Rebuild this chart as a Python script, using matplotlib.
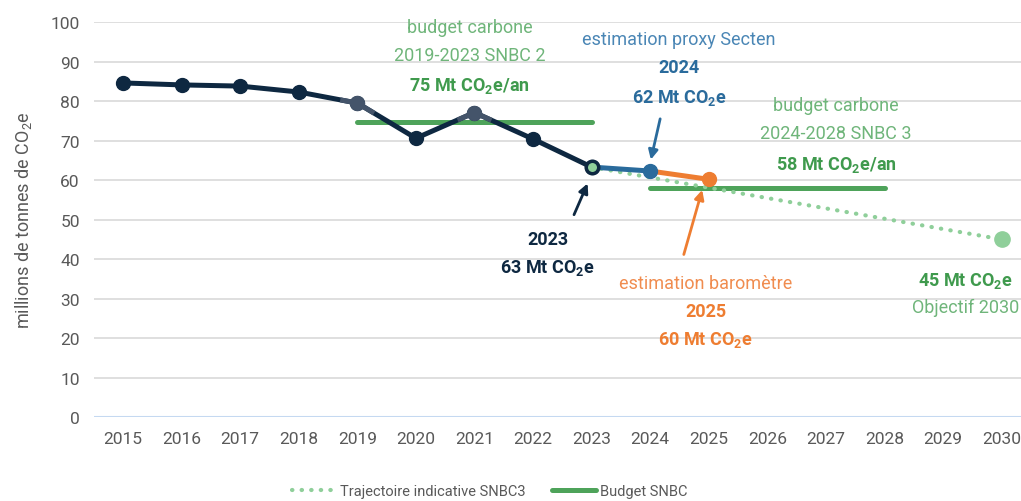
import matplotlib
matplotlib.use('Agg')
import matplotlib.pyplot as plt

# data
years = [str(y) for y in range(2015, 2031)]
inventaire = [84.6, 84.1, 83.8, 82.3, 79.5, 70.6, 77.1, 70.4, 63.3]   # 2015-2023
proxy_2024 = 62.3
barometre_2025 = 60.2
objectif_2030 = 45.0
budget_snbc2 = 74.8   # 2019-2023
budget_snbc3 = 58.0   # 2024-2028

NAVY = '#0e2841'
SLATE = '#44546a'
BLUE = '#2a6b9c'
BLUE_LIGHT = '#4a86b5'
ORANGE = '#ee7d31'
GREEN = '#4ea35a'
GREEN_TXT = '#3f9a4d'
GREEN_LIGHT = '#6fb57a'
DOTS = '#8fcf9a'

plt.rcParams['font.family'] = ['Roboto', 'DejaVu Sans']
plt.rcParams['mathtext.fontset'] = 'custom'
plt.rcParams['mathtext.rm'] = 'Roboto'
plt.rcParams['mathtext.bf'] = 'Roboto:bold'

fig = plt.figure(figsize=(10.21, 5.02), dpi=100)
ax = fig.add_axes([0.0918, 0.167, 0.918, 0.787])

x = list(range(len(years)))
i23 = years.index('2023')
i24 = years.index('2024')
i25 = years.index('2025')
i30 = years.index('2030')
i19 = years.index('2019')
i28 = years.index('2028')

# budgets
ax.plot([i19, i23], [budget_snbc2, budget_snbc2], color=GREEN, lw=3.6,
        solid_capstyle='round', zorder=2)
ax.plot([i24, i28], [budget_snbc3, budget_snbc3], color=GREEN, lw=3.6,
        solid_capstyle='round', zorder=2, label='Budget SNBC')

# trajectory SNBC3
ax.plot([i23, i30], [inventaire[-1], objectif_2030], color=DOTS, lw=3,
        ls=(0, (0.1, 2.2)), dash_capstyle='round', zorder=3,
        label='Trajectoire indicative SNBC3')
ax.plot([i30], [objectif_2030], 'o', color=DOTS, ms=11, zorder=3)

# inventory line
xi = x[:len(inventaire)]
ax.plot(xi, inventaire, color=NAVY, lw=3.6, marker='o', ms=10, zorder=4)
# lighter look around 2019 and 2021
for k in (i19, years.index('2021')):
    xs = [(x[k - 1] + x[k]) / 2 + 0.25, x[k], (x[k] + x[k + 1]) / 2 - 0.25]
    ys = [inventaire[k - 1] + (inventaire[k] - inventaire[k - 1]) * 0.75,
          inventaire[k],
          inventaire[k] + (inventaire[k + 1] - inventaire[k]) * 0.25]
    ax.plot(xs, ys, color=SLATE, lw=3.6, zorder=4)
    ax.plot([x[k]], [inventaire[k]], 'o', color=SLATE, ms=10, zorder=5)

# 2024 and 2025 estimates
ax.plot([i23, i24], [inventaire[-1], proxy_2024], color=BLUE, lw=3.6, zorder=4)
ax.plot([i24, i25], [proxy_2024, barometre_2025], color=ORANGE, lw=3.6, zorder=4)
ax.plot([i24], [proxy_2024], 'o', color=BLUE, ms=10, zorder=5)
ax.plot([i25], [barometre_2025], 'o', color=ORANGE, ms=10, zorder=5)
ax.plot([i23], [inventaire[-1]], 'o', mfc=DOTS, mec=NAVY, mew=2.5, ms=9, zorder=6)

# axes styling
ax.set_xlim(-0.5, len(years) - 0.5)
ax.set_ylim(0, 100)
ax.set_yticks(range(0, 101, 10))
ax.set_xticks(x)
ax.set_xticklabels(years)
ax.grid(axis='y', color='#d9d9d9', lw=1.2)
ax.set_axisbelow(True)
for s in ax.spines.values():
    s.set_visible(False)
ax.axhline(0, color='#c5d9f1', lw=1.5, zorder=1)
ax.tick_params(length=0, labelsize=12.5, colors='#595959', pad=10)
ax.set_ylabel('millions de tonnes de CO$_2$e', fontsize=13, color='#595959',
              labelpad=12)

# annotations
fs = 13
ax.text(5.92, 98.7, 'budget carbone', color=GREEN_LIGHT, fontsize=fs, ha='center', va='center')
ax.text(5.92, 91.6, '2019-2023 SNBC 2', color=GREEN_LIGHT, fontsize=fs, ha='center', va='center')
ax.text(5.92, 84.1, '75 Mt CO$_\\mathbf{2}$e/an', color=GREEN_TXT, fontsize=fs, weight='bold',
        ha='center', va='center')

ax.text(9.49, 95.7, 'estimation proxy Secten', color=BLUE_LIGHT, fontsize=fs, ha='center', va='center')
ax.text(9.49, 88.6, '2024', color=BLUE, fontsize=fs, weight='bold', ha='center', va='center')
ax.text(9.49, 81.0, '62 Mt CO$_\\mathbf{2}$e', color=BLUE, fontsize=fs, weight='bold', ha='center', va='center')
ax.annotate('', xy=(i24, proxy_2024 + 2.2), xytext=(9.18, 76.2),
            arrowprops=dict(arrowstyle='-|>', color=BLUE, lw=2, mutation_scale=14))

ax.text(7.25, 45.0, '2023', color=NAVY, fontsize=fs, weight='bold', ha='center', va='center')
ax.text(7.25, 38.0, '63 Mt CO$_\\mathbf{2}$e', color=NAVY, fontsize=fs, weight='bold', ha='center', va='center')
ax.annotate('', xy=(7.95, inventaire[-1] - 3.5), xytext=(7.68, 50.6),
            arrowprops=dict(arrowstyle='-|>', color=NAVY, lw=2, mutation_scale=14))

ax.text(9.95, 33.9, 'estimation baromètre', color='#f08c4f', fontsize=fs, ha='center', va='center')
ax.text(9.95, 26.8, '2025', color=ORANGE, fontsize=fs, weight='bold', ha='center', va='center')
ax.text(9.95, 19.7, '60 Mt CO$_\\mathbf{2}$e', color=ORANGE, fontsize=fs, weight='bold', ha='center', va='center')
ax.annotate('', xy=(9.9, barometre_2025 - 2.0), xytext=(9.56, 40.5),
            arrowprops=dict(arrowstyle='-|>', color=ORANGE, lw=2, mutation_scale=14))

ax.text(12.17, 79.0, 'budget carbone', color=GREEN_LIGHT, fontsize=fs, ha='center', va='center')
ax.text(12.17, 71.9, '2024-2028 SNBC 3', color=GREEN_LIGHT, fontsize=fs, ha='center', va='center')
ax.text(12.17, 64.0, '58 Mt CO$_\\mathbf{2}$e/an', color=GREEN_TXT, fontsize=fs, weight='bold',
        ha='center', va='center')

ax.text(14.38, 34.7, '45 Mt CO$_\\mathbf{2}$e', color=GREEN_TXT, fontsize=fs, weight='bold', ha='center', va='center')
ax.text(14.38, 27.8, 'Objectif 2030', color=GREEN_LIGHT, fontsize=fs, ha='center', va='center')

handles, labels = ax.get_legend_handles_labels()
order = [labels.index('Trajectoire indicative SNBC3'), labels.index('Budget SNBC')]
fig.legend([handles[i] for i in order], [labels[i] for i in order],
           loc='center', bbox_to_anchor=(0.48, 0.02), ncol=2, frameon=False,
           fontsize=10.5, labelcolor='#595959', columnspacing=1.8, handlelength=3.0,
           handletextpad=0.3)

fig.savefig('out.png', dpi=100)
